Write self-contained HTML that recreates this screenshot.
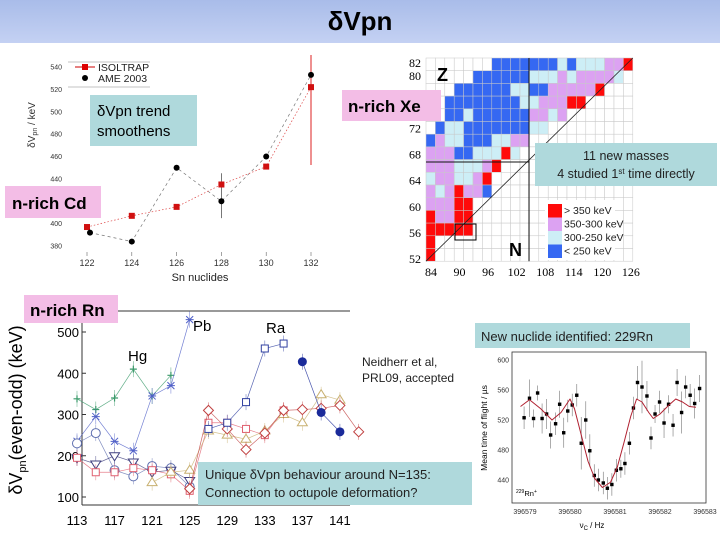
<!DOCTYPE html>
<html><head><meta charset="utf-8"><style>
html,body{margin:0;padding:0;background:#fff}
svg{display:block;font-family:"Liberation Sans",sans-serif}
</style></head><body>
<svg id="s" width="720" height="540" viewBox="0 0 720 540" xmlns="http://www.w3.org/2000/svg">
<defs><linearGradient id="tg" x1="0" y1="0" x2="0" y2="1"><stop offset="0" stop-color="#a9bce9"/><stop offset="1" stop-color="#c4d1f3"/></linearGradient></defs>
<rect x="0" y="0" width="720" height="43" fill="url(#tg)"/>
<text x="360" y="30" text-anchor="middle" font-size="26" font-weight="bold">δVpn</text>

<g id="sn">
<text x="35" y="125" font-size="10" fill="#333" transform="rotate(-90 35 125)" text-anchor="middle">δV<tspan font-size="7" dy="2">pn</tspan><tspan dy="-2"> / keV</tspan></text>
<text x="200" y="281" font-size="11" fill="#222" text-anchor="middle">Sn nuclides</text>
<line x1="68" y1="62" x2="150" y2="62" stroke="#888" stroke-width="0.6"/>
<line x1="68" y1="87" x2="150" y2="87" stroke="#888" stroke-width="0.6"/>
<line x1="75" y1="67" x2="95" y2="67" stroke="#c00" stroke-width="1"/>
<rect x="82" y="64" width="6" height="6" fill="#d00"/>
<text x="98" y="71" font-size="10.5" fill="#222">ISOLTRAP</text>
<circle cx="85" cy="78" r="3" fill="#000"/>
<text x="98" y="82" font-size="10.5" fill="#222">AME 2003</text>
<line x1="311" y1="55" x2="311" y2="165" stroke="#d22" stroke-width="1"/>
</g>

<rect x="90" y="95" width="107" height="51" fill="#afd9dc"/>
<text x="97" y="116" font-size="15">δVpn trend</text>
<text x="97" y="136" font-size="15">smoothens</text>
<rect x="5" y="186" width="96" height="32" fill="#f3bde6"/>
<text x="12" y="209" font-size="17" font-weight="bold">n-rich Cd</text>

<g id="hm"></g>
<rect x="342" y="90" width="99" height="31" fill="#f3bde6"/>
<text x="348" y="112" font-size="17" font-weight="bold">n-rich Xe</text>
<rect x="535" y="143" width="182" height="43" fill="#afd9dc"/>
<text x="626" y="160" font-size="12.5" text-anchor="middle" fill="#222">11 new masses</text>
<text x="626" y="178" font-size="12.5" text-anchor="middle" fill="#222">4 studied 1<tspan font-size="8" dy="-4">st</tspan><tspan dy="4"> time directly</tspan></text>

<g id="rn">
<line x1="118" y1="311" x2="350" y2="311" stroke="#333" stroke-width="1"/>
<line x1="82" y1="320" x2="82" y2="505" stroke="#333" stroke-width="1"/>
<line x1="82" y1="505" x2="350" y2="505" stroke="#333" stroke-width="1"/>
<text x="22" y="410" font-size="18" transform="rotate(-90 22 410)" text-anchor="middle">δV<tspan font-size="11" dy="4">pn</tspan><tspan dy="-4">(even-odd) (keV)</tspan></text>
<text x="128" y="361" font-size="15">Hg</text>
<text x="193" y="331" font-size="15">Pb</text>
<text x="266" y="333" font-size="15">Ra</text>
<text x="362" y="366" font-size="12" fill="#222">Neidherr et al,</text>
<text x="362" y="382" font-size="12" fill="#222">PRL09, accepted</text>
</g>
<rect x="24" y="295" width="94" height="28" fill="#f3bde6"/>
<text x="30" y="316" font-size="17" font-weight="bold">n-rich Rn</text>
<rect x="198" y="462" width="274" height="43" fill="#afd9dc"/>
<text x="205" y="479" font-size="13" fill="#222">Unique δVpn behaviour around N=135:</text>
<text x="205" y="497" font-size="13" fill="#222">Connection to octupole deformation?</text>

<rect x="475" y="323" width="215" height="25" fill="#afd9dc"/>
<text x="481" y="341" font-size="13" fill="#222">New nuclide identified: 229Rn</text>
<g id="tof">
<rect x="512" y="352" width="194" height="151" fill="none" stroke="#333" stroke-width="0.8"/>
<text x="487" y="428" font-size="8.5" transform="rotate(-90 487 428)" text-anchor="middle">Mean time of flight / µs</text>
<text x="592" y="528" font-size="8" text-anchor="middle">ν<tspan font-size="6" dy="2">C</tspan><tspan dy="-2"> / Hz</tspan></text>
<text x="516" y="496" font-size="7.5"><tspan font-size="5" dy="-3">229</tspan><tspan dy="3">Rn</tspan><tspan font-size="5" dy="-3">+</tspan></text>
</g>
</svg>
<script>
var NS="http://www.w3.org/2000/svg";
function mk(p,t,a){var e=document.createElementNS(NS,t);for(var k in a)e.setAttribute(k,a[k]);p.appendChild(e);return e;}

/* ---- Sn chart data ---- */
var snN=[122,124,126,128,130,132];
var snIsoltrap=[397,407,415,435,451,522];
var snAme=[392,384,450,420,460,533];
var snYTicks=[540,520,500,480,460,440,400,380];
function snX(n){return 87+(n-122)*22.4;}
function snY(v){return 67+(540-v)*1.119;}
var sn=document.getElementById('sn');
snYTicks.forEach(function(v){var t=mk(sn,'text',{x:62,y:snY(v)+2.5,'font-size':7,'text-anchor':'end',fill:'#333'});t.textContent=v;

});
snN.forEach(function(n){var t=mk(sn,'text',{x:snX(n),y:266,'font-size':9,'text-anchor':'middle',fill:'#333'});t.textContent=n;


var l=mk(sn,'line',{x1:snX(n),y1:252,x2:snX(n),y2:256,stroke:'#666','stroke-width':0.6});

});
var pa=snN.map(function(n,i){return snX(n)+(i==0?3:0)+','+snY(snAme[i]);}).join(' ');
var pl=mk(sn,'polyline',{points:pa,fill:'none',stroke:'#777','stroke-width':0.7,'stroke-dasharray':'3,3'});


var pi=snN.map(function(n,i){return snX(n)+','+snY(snIsoltrap[i]);}).join(' ');
var pl2=mk(sn,'polyline',{points:pi,fill:'none',stroke:'#d44','stroke-width':0.7,'stroke-dasharray':'1.5,2'});


var eb=mk(sn,'line',{x1:snX(128),y1:snY(445),x2:snX(128),y2:snY(405),stroke:'#555','stroke-width':0.8});


snN.forEach(function(n,i){
var r=mk(sn,'rect',{x:snX(n)-3,y:snY(snIsoltrap[i])-3,width:6,height:6,fill:'#d01010'});


var c=mk(sn,'circle',{cx:snX(n)+(i==0?3:0),cy:snY(snAme[i]),r:3,fill:'#000'});

});

/* ---- Heatmap data ---- */
var hmRows=[
"0000000BBBBBBBLBLLLVVR",
"00000BBBBBBLLLVLVVVVL0",
"000BBBBBBLLBBVVVVVR000",
"00BBBBBBBBLLVVVRR00000",
"00BBLBBBBBBVVLV0000000",
"0BLLBBBBBBBLL000000000",
"BVLLBBBLLVV00000000000",
"VVVBBLLLRL000000000000",
"VVVLLLVR00000000000000",
"LVVLLVR000000000000000",
"VLVRVVB000000000000000",
"VVVRR00000000000000000",
"RVVRR00000000000000000",
"RRRRR00000000000000000",
"R000000000000000000000",
"R000000000000000000000"];
var hmColors={"R":"#ff0a0a","V":"#dca2f2","L":"#cdeef6","B":"#3568f2"};
var hmYLabels=[82,80,72,68,64,60,56,52];
var hmXLabels=[84,90,96,102,108,114,120,126];
var hm=document.getElementById('hm');
var X0=426,Y0=58,CW=9.4,CH=12.7;
function hmX(n){return 431+(n-84)*4.76;}
function hmY(z){return 259-(z-52)*6.53;}
hmRows.forEach(function(row,r){for(var c=0;c<row.length;c++){var k=row[c];
var rc=mk(hm,'rect',{x:X0+c*CW,y:Y0+r*CH,width:CW,height:CH,fill:hmColors[k]||'#fff',stroke:'#c8c8c8','stroke-width':0.5});

}});
var lg=mk(hm,'rect',{x:545,y:200,width:70,height:60,fill:'#fff'});


var dg=mk(hm,'line',{x1:X0,y1:Y0+16*CH,x2:X0+22*CW,y2:Y0,stroke:'#222','stroke-width':0.8});


var vl=mk(hm,'line',{x1:529,y1:Y0,x2:529,y2:Y0+16*CH,stroke:'#111','stroke-width':1});


var hl=mk(hm,'line',{x1:X0,y1:162,x2:529,y2:162,stroke:'#111','stroke-width':1});


var bx=mk(hm,'rect',{x:455,y:224,width:21,height:16,fill:'none',stroke:'#000','stroke-width':1});


hmYLabels.forEach(function(z){var t=mk(hm,'text',{x:421,y:hmY(z)+4,'font-size':12,'text-anchor':'end','font-family':'Liberation Serif, serif'});t.textContent=z;

});
hmXLabels.forEach(function(n){var t=mk(hm,'text',{x:hmX(n),y:276,'font-size':12,'text-anchor':'middle','font-family':'Liberation Serif, serif'});t.textContent=n;

});
var legLabels=["> 350 keV","350-300 keV","300-250 keV","< 250 keV"],legKeys=["R","V","L","B"];
legKeys.forEach(function(k,i){var r=mk(hm,'rect',{x:548,y:204+i*13.5,width:14,height:13.5,fill:hmColors[k]});


var t=mk(hm,'text',{x:564,y:214+i*13.5,'font-size':10.5,fill:'#222'});t.textContent=legLabels[i];

});
var zt=mk(hm,'text',{x:437,y:81,'font-size':18,'font-weight':'bold'});zt.textContent='Z';


var nt=mk(hm,'text',{x:509,y:256,'font-size':18,'font-weight':'bold'});nt.textContent='N';



/* ---- Rn chart data ---- */
var rnXTicks=[113,117,121,125,129,133,137,141];
var rnYTicks=[100,200,300,400,500];
var rnHgN=[113,115,117,119,121,123];
var rnHgV=[338,312,340,410,345,395];
var rnPbN=[113,115,117,119,121,123,125];
var rnPbV=[235,295,235,212,345,370,530];
var rnRaN=[127,129,131,133,135,137,139,141];
var rnRaV=[265,280,330,460,472,428,305,258];
var rnCircN=[113,115,117,119,121,123,125];
var rnCircV=[230,255,165,150,175,170,125];
var rnTriDN=[113,115,117,119,121,123,125];
var rnTriDV=[195,180,200,185,160,165,140];
var rnSqN=[113,115,117,119,121,123,125,127,129,131,133,135];
var rnSqV=[195,160,160,170,165,155,115,280,280,265,250,310];
var rnDiaN=[125,127,129,131,133,135,137,139,141,143];
var rnDiaV=[120,310,265,215,255,310,312,315,322,258];
var rnTriUN=[121,123,125,127,129,131,133,135,137,139,141];
var rnTriUV=[135,160,165,260,250,240,260,300,280,348,335];
function rnX(n){return 77+(n-113)*9.39;}
function rnY(v){return 332+(500-v)*0.4125;}
var rn=document.getElementById('rn');
rnXTicks.forEach(function(n){var t=mk(rn,'text',{x:rnX(n),y:525,'font-size':13,'text-anchor':'middle'});t.textContent=n;

});
rnYTicks.forEach(function(v){var t=mk(rn,'text',{x:79,y:rnY(v)+5,'font-size':13,'text-anchor':'end'});t.textContent=v;


var l=mk(rn,'line',{x1:82,y1:rnY(v),x2:86,y2:rnY(v),stroke:'#333'});

});
function series(N,V,col,shape,name){
var p=N.map(function(n,i){return rnX(n)+','+rnY(V[i]);}).join(' ');
var l=mk(rn,'polyline',{points:p,fill:'none',stroke:col,'stroke-width':0.7,opacity:0.8});


N.forEach(function(n,i){var x=rnX(n),y=rnY(V[i]),m;
var e=mk(rn,'line',{x1:x,y1:y-8,x2:x,y2:y+8,stroke:col,'stroke-width':0.6,opacity:0.7});


if(shape=='plus')m=mk(rn,'path',{d:'M'+(x-3.5)+' '+y+'h7M'+x+' '+(y-3.5)+'v7',stroke:col,'stroke-width':1.2});
else if(shape=='star')m=mk(rn,'path',{d:'M'+(x-3.5)+' '+(y-3.5)+'l7 7M'+(x+3.5)+' '+(y-3.5)+'l-7 7M'+(x-4)+' '+y+'h8',stroke:col,'stroke-width':1});
else if(shape=='fill')m=mk(rn,'circle',{cx:x,cy:y,r:4.5,fill:col});
else if(shape=='circ')m=mk(rn,'circle',{cx:x,cy:y,r:4.5,fill:'#fff',stroke:col,'stroke-width':1});
else if(shape=='sq')m=mk(rn,'rect',{x:x-3.5,y:y-3.5,width:7,height:7,fill:'#fff',stroke:col,'stroke-width':1});
else if(shape=='dia')m=mk(rn,'path',{d:'M'+x+' '+(y-5)+'l5 5l-5 5l-5 -5z',fill:'#fff',stroke:col,'stroke-width':1});
else if(shape=='tu')m=mk(rn,'path',{d:'M'+x+' '+(y-5)+'l5 8h-10z',fill:'#fff',stroke:col,'stroke-width':1});
else m=mk(rn,'path',{d:'M'+x+' '+(y+5)+'l5 -8h-10z',fill:'#fff',stroke:col,'stroke-width':1});

});}
series(rnHgN,rnHgV,'#3a9a6a','plus','hg');
series(rnPbN,rnPbV,'#5060c8','star','pb');
series(rnCircN,rnCircV,'#6070b0','circ','circle-series');
series(rnTriDN,rnTriDV,'#404080','td','tri-down-series');
series(rnSqN,rnSqV,'#e06070','sq','square-series');
series(rnTriUN,rnTriUV,'#c8b070','tu','tri-up-series');
series(rnDiaN,rnDiaV,'#c04040','dia','diamond-series');
series(rnRaN.slice(0,5),rnRaV.slice(0,5),'#3040a0','sq','ra');
series(rnRaN.slice(5),rnRaV.slice(5),'#1a2a9a','fill','ra-filled');

/* ---- TOF chart data ---- */
var tofBase=396579;
var tofXTicks=[396579,396580,396581,396582,396583];
var tofYTicks=[600,560,520,480,440];
var tofDf=[-0.02,0.10,0.19,0.28,0.38,0.48,0.57,0.68,0.77,0.86,0.95,1.05,1.15,1.25,1.35,1.44,1.54,1.63,1.74,1.83,1.93,2.03,2.13,2.22,2.32,2.41,2.50,2.60,2.71,2.80,2.89,2.99,3.09,3.19,3.29,3.38,3.48,3.57,3.67,3.77,3.88];
var tofV=[523,549,522,556,522,528,500,515,541,503,532,540,553,489,520,479,446,440,436,429,434,453,455,462,489,536,570,564,552,496,528,544,516,541,513,570,530,564,553,542,562];
var tofErr=[15,25,12,10,20,20,18,15,18,20,15,15,15,35,25,22,15,15,15,15,15,15,12,15,15,15,22,35,20,15,12,15,20,12,15,18,28,15,15,20,18];
var fitDf=[-0.1,0.1,0.35,0.6,0.8,1.0,1.1,1.25,1.4,1.55,1.72,1.9,2.05,2.2,2.35,2.48,2.6,2.75,2.85,3.0,3.2,3.35,3.5,3.65,3.8];
var fitV=[538,547,535,520,530,548,535,500,465,442,430,437,457,490,525,548,544,530,522,528,540,548,544,538,537];
function tX(d){return 525+d*45;}
function tY(v){return 360+(600-v)*0.75;}
var tof=document.getElementById('tof');
tofXTicks.forEach(function(f){var t=mk(tof,'text',{x:tX(f-tofBase),y:514,'font-size':7,'text-anchor':'middle',fill:'#333'});t.textContent=f;

});
tofYTicks.forEach(function(v){var t=mk(tof,'text',{x:509,y:tY(v)+2.5,'font-size':7,'text-anchor':'end',fill:'#333'});t.textContent=v;

});
tofDf.forEach(function(d,i){var x=tX(d),y=tY(tofV[i]),e=tofErr[i]*0.75;
var l=mk(tof,'line',{x1:x,y1:y-e,x2:x,y2:y+e,stroke:'#888','stroke-width':0.7});


var r=mk(tof,'rect',{x:x-1.7,y:y-1.7,width:3.4,height:3.4,fill:'#000'});

});
var fp=fitDf.map(function(d,i){return tX(d)+','+tY(fitV[i]);}).join(' ');
var fl=mk(tof,'polyline',{points:fp,fill:'none',stroke:'#b02030','stroke-width':1,'stroke-linejoin':'round'});


</script>
</body></html>
